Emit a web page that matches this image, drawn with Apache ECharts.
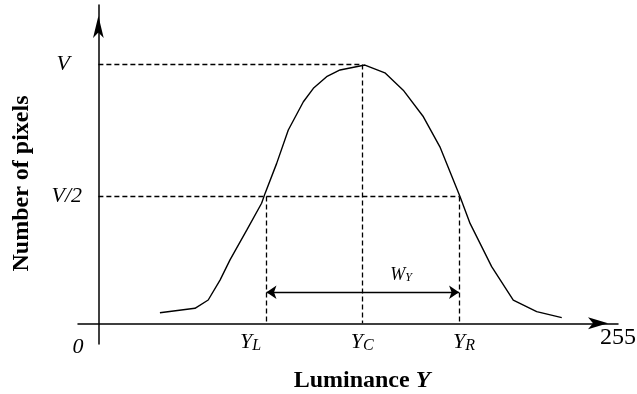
<!DOCTYPE html>
<html>
<head>
<meta charset="utf-8">
<script src="https://cdn.jsdelivr.net/npm/echarts@6/dist/echarts.min.js"></script>
<style>
  html, body { margin: 0; padding: 0; background: #fff; }
  #main { width: 637px; height: 394px; }
</style>
</head>
<body>
<div id="main"></div>
<script>
// luminance (0..255) and histogram height (V = 100)
var lumValues = [30.2, 47.4, 53.9, 59.7, 64.6, 72.8, 80.1, 81.8, 87.5, 93.2, 100.6, 105.5, 112.0,
  118.6, 130.8, 140.6, 149.6, 159.5, 167.6, 177.5, 182.4, 193.0, 203.6, 215.1, 227.4];
var pixelCounts = [4.1, 5.8, 9.0, 16.7, 24.5, 36.0, 46.4, 50.2, 61.8, 74.7, 85.6, 90.8, 95.3,
  97.9, 99.8, 96.8, 90.1, 79.8, 68.2, 48.9, 38.6, 21.9, 9.0, 4.5, 2.2];

// key levels
var peakV = 100;
var halfV = 49;
var yLeft = 82.5;
var yCenter = 129.5;
var yRight = 177;
var widthArrowAt = 12;     // height of the W_Y arrow
var widthLabelAt = [148.5, 18.7];

// tick labels
var xTickValues = [-10, yLeft, yCenter, yRight, 255];
var xTickLabels = ['{o|0}', '{i|Y}{sl|L}', '{i|Y}{s|C}', '{ir|Y}{s|R}', '{n|255}'];
var yTickValues = [halfV, peakV];
var yTickLabels = ['{i|V/2}', '{iv|V}'];

var serif = 'Liberation Serif';

var chart = echarts.init(document.getElementById('main'), null, { renderer: 'canvas' });

var dashStyle = { color: '#000', width: 1.3, type: [5, 3] };

var option = {
  backgroundColor: '#fff',
  animation: false,
  grid: { left: 78, right: 19, top: 5, bottom: 50, containLabel: false, outerBoundsMode: 'none' },
  xAxis: {
    type: 'value',
    min: -10,
    max: 255,
    splitLine: { show: false },
    axisTick: { show: false },
    axisLine: {
      onZero: true,
      lineStyle: { color: '#000', width: 1.5 },
      symbol: ['none', 'arrow'],
      symbolSize: [9, 20],
      symbolOffset: [0, -10]
    },
    axisLabel: {
      customValues: xTickValues,
      margin: -18,   // labels sit at the grid edge, pull them up to the zero line
      hideOverlap: false,
      showMinLabel: true,
      showMaxLabel: true,
      fontFamily: serif,
      formatter: function (val) {
        return xTickLabels[xTickValues.indexOf(val)] || '';
      },
      rich: {
        o: { fontFamily: serif, fontStyle: 'italic', fontSize: 22, color: '#000', padding: [10, 0, 0, 0] },
        i: { fontFamily: serif, fontStyle: 'italic', fontSize: 22, color: '#000', padding: [5, 0, 0, 0] },
        ir: { fontFamily: serif, fontStyle: 'italic', fontSize: 22, color: '#000', padding: [5, 0, 0, 10] },
        s: { fontFamily: serif, fontStyle: 'italic', fontSize: 16, color: '#000', padding: [12, 0, 0, 0] },
        sl: { fontFamily: serif, fontStyle: 'italic', fontSize: 16, color: '#000', padding: [12, 32, 0, 0] },
        n: { fontFamily: serif, fontStyle: 'normal', fontSize: 24, color: '#000' }
      }
    },
    name: '{b|Luminance }{bi|Y}',
    nameLocation: 'middle',
    nameGap: 25,
    nameTextStyle: {
      rich: {
        b: { fontFamily: serif, fontWeight: 'bold', fontSize: 24, color: '#000', padding: [0, 0, 0, 28] },
        bi: { fontFamily: serif, fontWeight: 'bold', fontStyle: 'italic', fontSize: 24, color: '#000' }
      }
    }
  },
  yAxis: {
    type: 'value',
    min: -8,
    max: 123,
    splitLine: { show: false },
    axisTick: { show: false },
    axisLine: {
      onZero: true,
      lineStyle: { color: '#000', width: 1.5 },
      symbol: ['none', 'arrow'],
      symbolSize: [8, 22],
      symbolOffset: [0, -11]
    },
    axisLabel: {
      customValues: yTickValues,
      margin: -4,
      formatter: function (val) {
        return yTickLabels[yTickValues.indexOf(val)] || '';
      },
      rich: {
        i: { fontFamily: serif, fontStyle: 'italic', fontSize: 22, color: '#000' },
        iv: { fontFamily: serif, fontStyle: 'italic', fontSize: 22, color: '#000', padding: [0, 12, 0, 0] }
      }
    },
    name: '{b|Number of pixels}',
    nameLocation: 'middle',
    nameRotate: 90,
    nameGap: 44,
    nameTextStyle: {
      rich: {
        b: { fontFamily: serif, fontWeight: 'bold', fontSize: 24, color: '#000', padding: [0, 18, 0, 0] }
      }
    }
  },
  series: [{
    type: 'line',
    data: lumValues.map(function (x, i) { return [x, pixelCounts[i]]; }),
    showSymbol: false,
    smooth: false,
    lineStyle: { color: '#000', width: 1.4 },
    emphasis: { disabled: true },
    markLine: {
      silent: true,
      symbol: 'none',
      label: { show: false },
      lineStyle: dashStyle,
      data: [
        [{ coord: [0, peakV] }, { coord: [yCenter, peakV] }],
        [{ coord: [yCenter, peakV] }, { coord: [yCenter, 0] }],
        [{ coord: [0, halfV] }, { coord: [yRight, halfV] }],
        [{ coord: [yLeft, halfV] }, { coord: [yLeft, 0] }],
        [{ coord: [yRight, halfV] }, { coord: [yRight, 0] }],
        [{ coord: [yLeft, widthArrowAt], symbol: 'arrow', symbolSize: 10, lineStyle: { type: 'solid', width: 1.4, color: '#000' } },
         { coord: [yRight, widthArrowAt], symbol: 'arrow', symbolSize: 10 }]
      ]
    },
    markPoint: {
      silent: true,
      symbol: 'circle',
      symbolSize: 0,
      data: [{ coord: widthLabelAt }],
      label: {
        show: true,
        position: 'inside',
        formatter: '{w|W}{s|Y}',
        rich: {
          w: { fontFamily: serif, fontStyle: 'italic', fontSize: 18, color: '#000' },
          s: { fontFamily: serif, fontStyle: 'italic', fontSize: 12, color: '#000', padding: [6, 0, 0, 0] }
        }
      }
    }
  }]
};

chart.setOption(option);
</script>
</body>
</html>
